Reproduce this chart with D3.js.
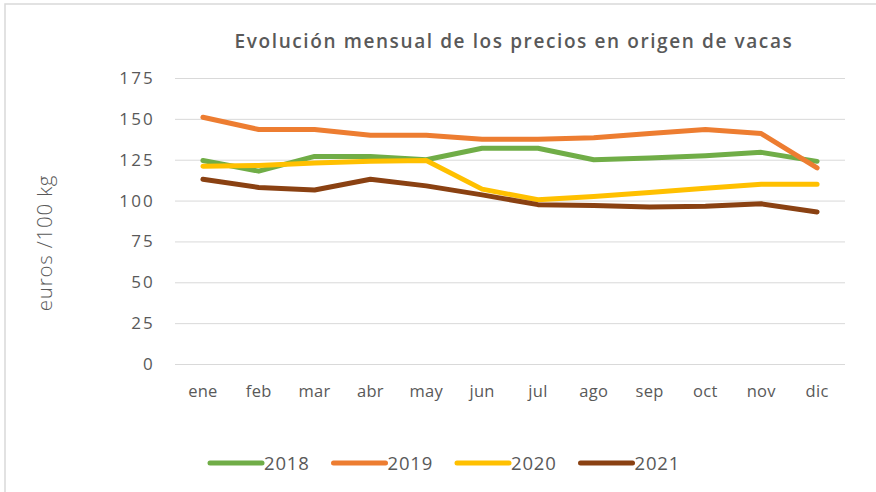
<!DOCTYPE html>
<html>
<head>
<meta charset="utf-8">
<script src="https://cdn.jsdelivr.net/npm/d3@7"></script>
<style>
  body { margin: 0; background: #fff; }
  svg { display: block; font-family: "Open Sans", sans-serif; }
</style>
</head>
<body>
<svg id="chart" width="876" height="492"></svg>
<script>
// data
var months = ["ene", "feb", "mar", "abr", "may", "jun", "jul", "ago", "sep", "oct", "nov", "dic"];
var years = ["2018", "2019", "2020", "2021"];
var v2018 = [124.5, 118, 127, 127, 125, 132, 132, 125, 126, 127.5, 129.5, 124];
var v2019 = [151, 143.5, 143.5, 140, 140, 137.5, 137.5, 138.5, 141, 143.5, 141, 120];
var v2020 = [121, 121.5, 123, 124, 124.5, 107, 100.5, 102.5, 105, 107.5, 110, 110];
var v2021 = [113, 108, 106.5, 113, 109, 103.5, 97.5, 97, 96, 96.5, 98, 93];
var yTicks = [0, 25, 50, 75, 100, 125, 150, 175];
var colors = ["#70ad47", "#ed7d31", "#ffc000", "#8a4112"];

var series = [v2018, v2019, v2020, v2021];

var svg = d3.select("#chart");
var plotLeft = 175, plotRight = 845, plotTop = 78, plotBottom = 364;

// outer frame
svg.append("rect")
	.attr("x", 5).attr("y", 4)
	.attr("width", 900).attr("height", 600)
	.attr("fill", "none")
	.attr("stroke", "#d9d9d9")
	.attr("stroke-width", 1.5);

var x = d3.scaleBand().domain(months).range([plotLeft, plotRight]);
var y = d3.scaleLinear().domain([0, 175]).range([plotBottom, plotTop]);

// grid
svg.append("g").selectAll("line")
	.data(yTicks)
	.join("line")
	.attr("x1", plotLeft).attr("x2", plotRight)
	.attr("y1", function(d){ return y(d) + 0.5; })
	.attr("y2", function(d){ return y(d) + 0.5; })
	.attr("stroke", "#d9d9d9")
	.attr("stroke-width", 1);

// y axis labels
var yAxis = svg.append("g")
	.attr("transform", "translate(" + (plotLeft - 20) + ",0)")
	.call(d3.axisLeft(y).tickValues(yTicks).tickSize(0).tickPadding(0));
yAxis.select(".domain").remove();
yAxis.selectAll("text")
	.attr("font-size", 17)
	.attr("letter-spacing", 2.2)
	.attr("font-family", "Open Sans, sans-serif")
	.attr("fill", "#595959");

// x axis labels
var xAxis = svg.append("g")
	.attr("transform", "translate(0," + (plotBottom + 21) + ")")
	.call(d3.axisBottom(x).tickSize(0).tickPadding(0));
xAxis.select(".domain").remove();
xAxis.selectAll("text")
	.attr("font-size", 16.5)
	.attr("letter-spacing", 0.3)
	.attr("font-family", "Open Sans, sans-serif")
	.attr("fill", "#595959");

// y title
svg.append("text")
	.attr("transform", "translate(52,243) rotate(-90)")
	.attr("text-anchor", "middle")
	.attr("font-size", 20.5)
	.attr("letter-spacing", 0.8)
	.attr("font-weight", 300)
	.attr("fill", "#595959")
	.text("euros /100 kg");

// title
svg.append("text")
	.attr("x", 514).attr("y", 48)
	.attr("text-anchor", "middle")
	.attr("font-size", 19)
	.attr("font-weight", 600)
	.attr("letter-spacing", 1.6)
	.attr("fill", "#595959")
	.text("Evolución mensual de los precios en origen de vacas");

// lines
var line = d3.line()
	.x(function(d, i){ return x(months[i]) + x.bandwidth() / 2; })
	.y(function(d){ return y(d); });

svg.append("g").selectAll("path")
	.data(series)
	.join("path")
	.attr("d", line)
	.attr("fill", "none")
	.attr("stroke", function(d, i){ return colors[i]; })
	.attr("stroke-width", 5)
	.attr("stroke-linejoin", "round")
	.attr("stroke-linecap", "round");

// legend
var legend = svg.append("g").selectAll("g")
	.data(years)
	.join("g")
	.attr("transform", function(d, i){ return "translate(" + (210 + i * 123.5) + ",463)"; });
legend.append("line")
	.attr("x1", 0).attr("x2", 52)
	.attr("stroke", function(d, i){ return colors[i]; })
	.attr("stroke-width", 5)
	.attr("stroke-linecap", "round");
legend.append("text")
	.attr("x", 54).attr("y", 7)
	.attr("font-size", 18.5)
	.attr("letter-spacing", 0.8)
	.attr("fill", "#595959")
	.text(function(d){ return d; });
</script>
</body>
</html>
